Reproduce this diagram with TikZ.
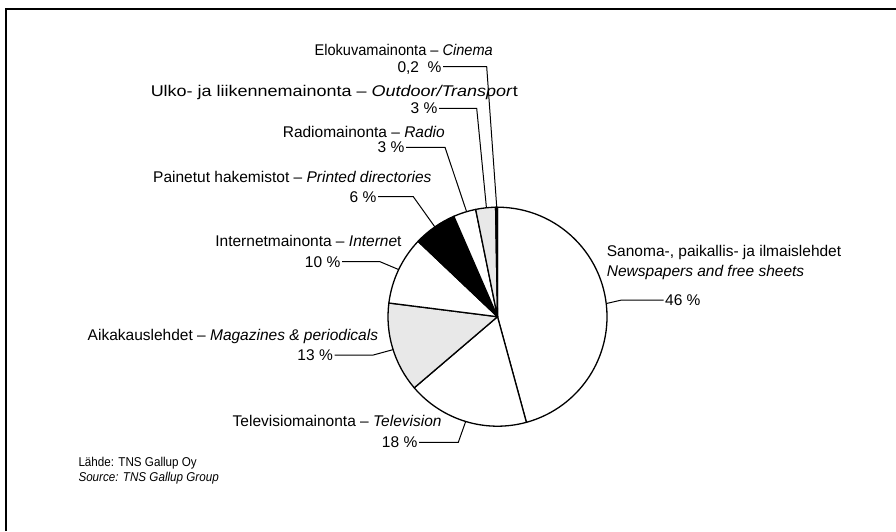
\documentclass[tikz,border=0pt]{standalone}
\usepackage{fontspec}
\usepackage{graphicx}
\setmainfont{Liberation Sans}
\usetikzlibrary{calc}
\begin{document}
\begin{tikzpicture}[x=1pt,y=-1pt,
  lbl/.style={inner sep=0pt,font=\fontsize{15.5}{18}\selectfont},
  srcl/.style={inner sep=0pt,font=\fontsize{12.8}{15}\selectfont},
  pct/.style={inner sep=0pt,anchor=east,text height=11.1pt,text depth=0pt,font=\fontsize{15.5}{18}\selectfont},
  wedge/.style={draw=black,line width=1.3pt,line join=round},
  leader/.style={draw=black,line width=1pt},
  stip/.style={fill=black!9},
  frame/.style={line width=2pt}
]
\useasboundingbox (0,0) rectangle (896,531);
\draw[frame] (6,531) -- (6,9) -- (896,9);

\coordinate (C) at (497.5,316.7);
\def\R{109.5}
% slices (angles in flipped system = -standard angle)
\path[wedge,fill=white] (C) -- ($(C)+(-90:\R)$) arc[start angle=-90,end angle=74.7,radius=\R] -- cycle;
\path[wedge,fill=white] (C) -- ($(C)+(74.7:\R)$) arc[start angle=74.7,end angle=139.5,radius=\R] -- cycle;
\path[wedge,stip] (C) -- ($(C)+(139.5:\R)$) arc[start angle=139.5,end angle=187.2,radius=\R] -- cycle;
\path[wedge,fill=white] (C) -- ($(C)+(187.2:\R)$) arc[start angle=187.2,end angle=223.5,radius=\R] -- cycle;
\path[wedge,fill=black] (C) -- ($(C)+(223.5:\R)$) arc[start angle=223.5,end angle=246.5,radius=\R] -- cycle;
\path[wedge,fill=white] (C) -- ($(C)+(246.5:\R)$) arc[start angle=246.5,end angle=258.5,radius=\R] -- cycle;
\path[wedge,stip] (C) -- ($(C)+(258.5:\R)$) arc[start angle=258.5,end angle=269,radius=\R] -- cycle;
\path[wedge,fill=black] (C) -- ($(C)+(269:\R)$) arc[start angle=269,end angle=270,radius=\R] -- cycle;

% leader end points on the rim
\coordinate (eCin) at ($(C)+(-90.4:\R)$);
\coordinate (eOut) at ($(C)+(-95.8:\R)$);
\coordinate (eRad) at ($(C)+(-106.4:\R)$);
\coordinate (ePri) at ($(C)+(-124.9:\R)$);
\coordinate (eInt) at ($(C)+(-154.5:\R)$);
\coordinate (eMag) at ($(C)+(162.5:\R)$);
\coordinate (eTV)  at ($(C)+(106.9:\R)$);
\coordinate (eNew) at ($(C)+(-6.9:\R)$);

% labels
\node[lbl,anchor=base east] (tCin) at (493,55) {\scalebox{0.94}[1]{Elokuvamainonta – \textit{Cinema}}};
\node[pct] (pCin) at (441.7,66.7) {0,2~~\%};
\node[lbl,anchor=base east] (tOut) at (518,96.7) {\scalebox{1.16}[1]{Ulko- ja liikennemainonta – \textit{Outdoor/Transpor}t}};
\node[pct] (pOut) at (437.5,108.3) {3 \%};
\node[lbl,anchor=base east] (tRad) at (445,137.6) {Radiomainonta – \textit{Radio}};
\node[pct] (pRad) at (404.5,147.3) {3 \%};
\node[lbl,anchor=base east] (tPri) at (431.7,182.7) {Painetut hakemistot – \textit{Printed directories}};
\node[pct] (pPri) at (376.5,196.7) {6 \%};
\node[lbl,anchor=base east] (tInt) at (401.7,246) {Internetmainonta – \textit{Interne}t};
\node[pct] (pInt) at (340.5,261.7) {10 \%};
\node[lbl,anchor=base east] (tMag) at (378.3,340) {Aikakauslehdet – \textit{Magazines \& periodicals}};
\node[pct] (pMag) at (333,355) {13 \%};
\node[lbl,anchor=base east] (tTV) at (441.7,426.7) {Televisiomainonta – \textit{Television}};
\node[pct] (pTV) at (417.5,442.3) {18 \%};
\node[lbl,anchor=base west] (tNew1) at (606.7,256.7) {Sanoma-, paikallis- ja ilmaislehdet};
\node[lbl,anchor=base west] (tNew2) at (606.7,276.7) {\textit{Newspapers and free sheets}};
\node[pct,anchor=west] (pNew) at (665,300) {46 \%};
\node[srcl,anchor=base west] (src1) at (78.3,466) {\scalebox{0.91}[1]{Lähde: TNS Gallup Oy}};
\node[srcl,anchor=base west] (src2) at (78.3,481) {\scalebox{0.91}[1]{\textit{Source: TNS Gallup Group}}};

% leaders
\draw[leader] ([xshift=1.5pt]pCin.east) -- (486.7,66.7) -- (eCin);
\draw[leader] ([xshift=1.5pt]pOut.east) -- (476.7,108.3) -- (eOut);
\draw[leader] ([xshift=1.5pt]pRad.east) -- (445,147.3) -- (eRad);
\draw[leader] ([xshift=1.5pt]pPri.east) -- (413.3,196.7) -- (ePri);
\draw[leader] ([xshift=1.5pt]pInt.east) -- (380,261.7) -- (eInt);
\draw[leader] ([xshift=1.5pt]pMag.east) -- (373.3,355) -- (eMag);
\draw[leader] ([xshift=1.5pt]pTV.east) -- (458.3,442.3) -- (eTV);
\draw[leader] ([xshift=-1.5pt]pNew.west) -- (621.7,300) -- (eNew);
\end{tikzpicture}
\end{document}
